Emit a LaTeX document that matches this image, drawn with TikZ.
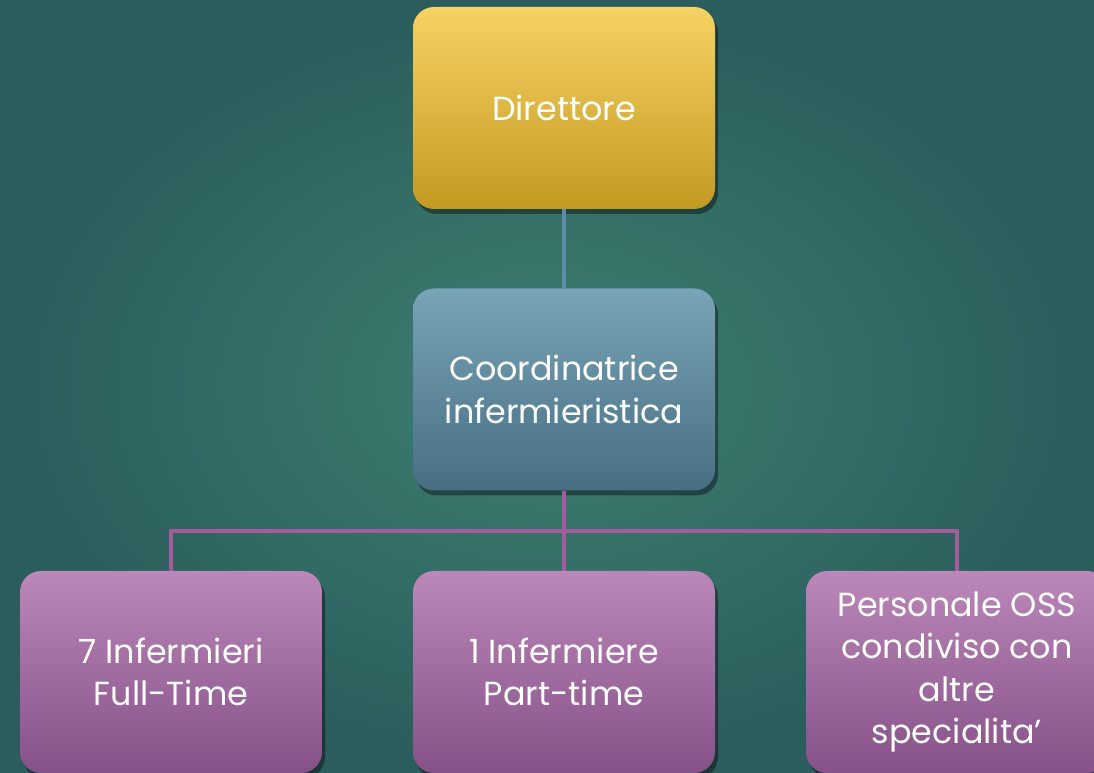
\documentclass[tikz,border=0pt]{standalone}
\usepackage{fontspec}
\setmainfont{Poppins}
\usetikzlibrary{shadows}

\definecolor{bgin}{HTML}{3F7F71}
\definecolor{bgout}{HTML}{2A5D5C}
\definecolor{goldtop}{HTML}{F7D264}
\definecolor{goldbot}{HTML}{C39A22}
\definecolor{bluetop}{HTML}{78A4B7}
\definecolor{bluebot}{HTML}{486E83}
\definecolor{lilatop}{HTML}{BC87B9}
\definecolor{lilabot}{HTML}{855188}
\definecolor{lilaline}{HTML}{A45C9F}
\definecolor{blueline}{HTML}{5E8CA8}

\tikzset{
  box/.style={rounded corners=0.42cm, minimum width=6.04cm, minimum height=4.04cm,
    text=white, align=center, font=\fontsize{19}{24}\selectfont,
    drop shadow={shadow xshift=0.06cm, shadow yshift=-0.1cm, opacity=0.4, fill=black}},
  boss/.style={box, top color=goldtop, bottom color=goldbot},
  chief/.style={box, top color=bluetop, bottom color=bluebot},
  staff/.style={box, top color=lilatop, bottom color=lilabot},
  conn/.style={draw=lilaline, line width=2.2pt},
  connb/.style={draw=blueline, line width=2.2pt}
}

\begin{document}
\begin{tikzpicture}

\clip (0,0) rectangle (21.88,15.44);
\shade[inner color=bgin, outer color=bgout] (0,0) rectangle (21.88,15.44);

\node[boss] (dir) at (11.28,13.28) {Direttore};
\node[chief] (coord) at (11.28,7.65) {Coordinatrice\\infermieristica};

\node[staff] (inf1) at (3.42,2.0) {7 Infermieri\\Full-Time};
\node[staff] (inf2) at (11.28,2.0) {1 Infermiere\\Part-time};
\node[staff] (oss) at (19.14,2.0) {Personale OSS\\condiviso con\\altre\\specialita’};

\coordinate (bar) at (11.28,4.82);

\draw[connb] (dir.south) -- (coord.north);
\draw[conn] (coord.south) -- (inf2.north);
\draw[conn] (inf1.north) |- (bar) -| (oss.north);

\end{tikzpicture}
\end{document}
